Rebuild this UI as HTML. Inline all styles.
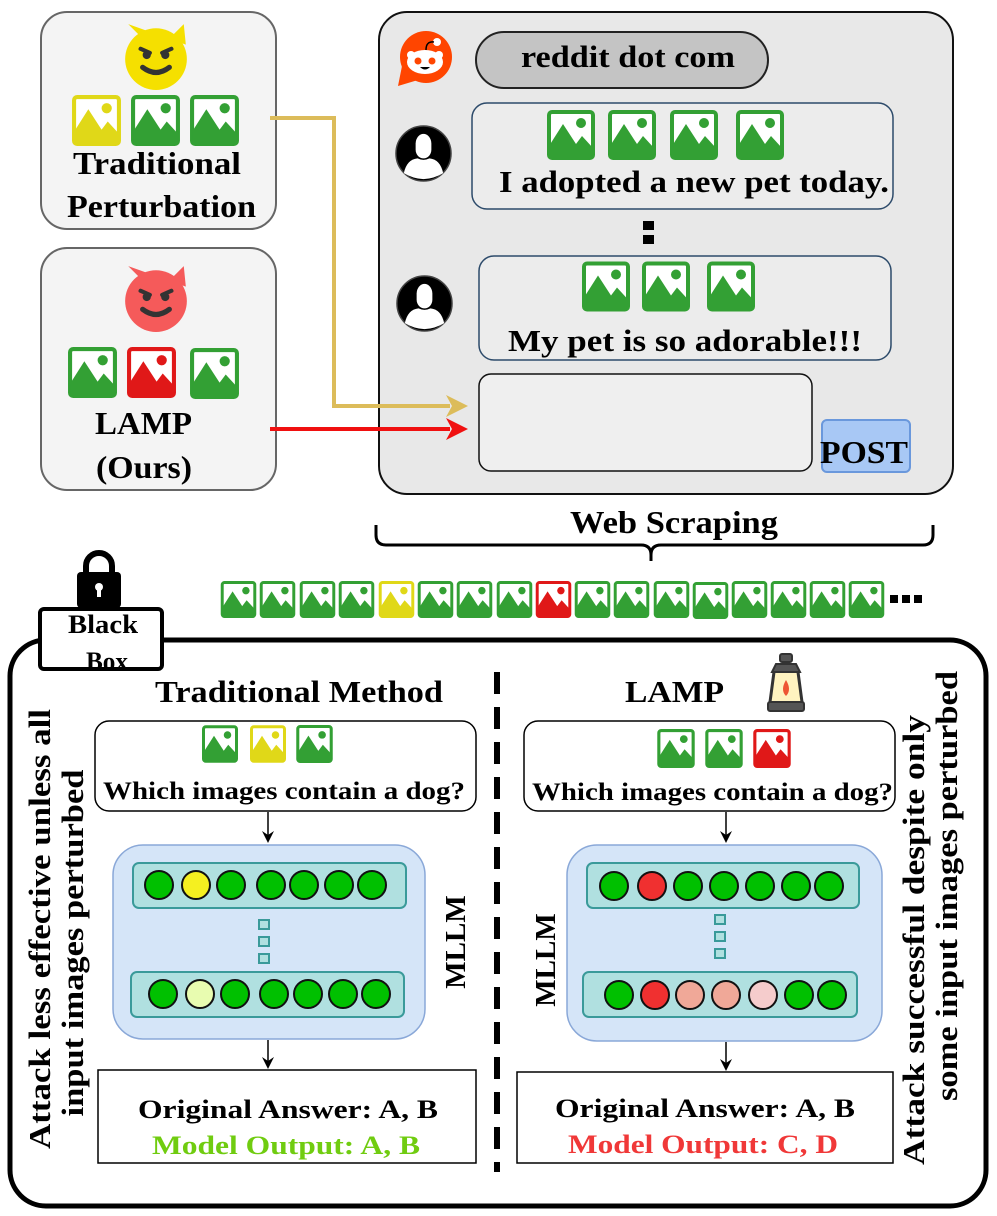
<!DOCTYPE html>
<html><head><meta charset="utf-8"><style>
html,body{margin:0;padding:0;background:#fff;}
svg{display:block;}
text{font-family:"Liberation Serif",serif;font-weight:bold;fill:#000;}
</style></head><body>
<svg width="997" height="1216" viewBox="0 0 997 1216" xmlns="http://www.w3.org/2000/svg">
<defs>
<symbol id="im" viewBox="0 0 48 50">
<rect x="2" y="2" width="44" height="46" rx="3" fill="#fff" stroke="currentColor" stroke-width="4"/>
<polygon points="2,48 2,36 16,14 29,34 35,26 46,38 46,48" fill="currentColor"/>
<circle cx="34" cy="13" r="5" fill="currentColor"/>
</symbol>
<symbol id="av" viewBox="0 0 60 60">
<circle cx="30" cy="30" r="28" fill="#000" stroke="#444" stroke-width="1.5"/>
<path d="M22 20 a8 10 0 0 1 16 0 v6 a8 9 0 0 1 -16 0 z" fill="#fff"/>
<path d="M10 50 q3 -14 14 -15 q6 3 12 0 q11 1 14 15 q-20 12 -40 0z" fill="#fff"/>
</symbol>
<symbol id="devil" viewBox="0 0 70 70">
<path d="M8 4 L20 16 L50 16 L62 4 L64 24 Z" fill="currentColor"/>
<circle cx="35" cy="38" r="30" fill="currentColor"/>
<path d="M20 28 l9 4 M50 28 l-9 4" stroke="#333" stroke-width="4" stroke-linecap="round"/>
<circle cx="26" cy="34" r="4" fill="#333"/><circle cx="44" cy="34" r="4" fill="#333"/>
<path d="M22 46 q13 10 26 0" fill="none" stroke="#333" stroke-width="5" stroke-linecap="round"/>
</symbol>
</defs>

<rect x="41" y="12" width="235" height="217" rx="26" fill="#f4f4f4" stroke="#666" stroke-width="2"/>
<use href="#devil" x="120" y="20" width="72" height="72" style="color:#f5e000"/>
<use href="#im" x="72" y="95" width="49" height="51" style="color:#e0d818"/>
<use href="#im" x="131" y="95" width="49" height="51" style="color:#33a034"/>
<use href="#im" x="190" y="95" width="49" height="51" style="color:#33a034"/>
<text x="73" y="174" font-size="32" textLength="168" lengthAdjust="spacingAndGlyphs">Traditional</text>
<text x="67" y="217" font-size="32" textLength="189" lengthAdjust="spacingAndGlyphs">Perturbation</text>

<rect x="41" y="248" width="235" height="242" rx="26" fill="#f4f4f4" stroke="#666" stroke-width="2"/>
<use href="#devil" x="120" y="262" width="72" height="72" style="color:#f55a5a"/>
<use href="#im" x="68" y="347" width="49" height="51" style="color:#33a034"/>
<use href="#im" x="127" y="347" width="49" height="51" style="color:#e01818"/>
<use href="#im" x="190" y="348" width="49" height="51" style="color:#33a034"/>
<text x="95" y="434" font-size="32" textLength="97" lengthAdjust="spacingAndGlyphs">LAMP</text>
<text x="96" y="478" font-size="32" textLength="96" lengthAdjust="spacingAndGlyphs">(Ours)</text>

<rect x="379" y="12" width="574" height="482" rx="28" fill="#e8e8e8" stroke="#111" stroke-width="2"/>
<circle cx="426" cy="57" r="26" fill="#ff4500"/>
<path d="M402 66 L398 86 L418 80 Z" fill="#ff4500"/>
<ellipse cx="425" cy="62" rx="18" ry="12" fill="#fff"/>
<circle cx="411" cy="55" r="4" fill="#fff"/><circle cx="439" cy="55" r="4" fill="#fff"/>
<circle cx="418" cy="61" r="3.5" fill="#ff4500"/><circle cx="432" cy="61" r="3.5" fill="#ff4500"/>
<path d="M420 67 q5 5 10 0z" fill="#000"/>
<circle cx="437" cy="42" r="4" fill="#fff"/>
<path d="M426 50 q0 -9 8 -8" fill="none" stroke="#000" stroke-width="1.5"/>

<rect x="476" y="32" width="292" height="56" rx="28" fill="#c4c4c4" stroke="#222" stroke-width="2"/>
<text x="521" y="67" font-size="31" textLength="214" lengthAdjust="spacingAndGlyphs">reddit dot com</text>

<use href="#av" x="394" y="124" width="59" height="59"/>
<rect x="472" y="103" width="421" height="106" rx="15" fill="#ececec" stroke="#2c4a6a" stroke-width="1.5"/>
<use href="#im" x="547" y="110" width="48" height="50" style="color:#33a034"/>
<use href="#im" x="608" y="110" width="48" height="50" style="color:#33a034"/>
<use href="#im" x="670" y="110" width="48" height="50" style="color:#33a034"/>
<use href="#im" x="736" y="110" width="48" height="50" style="color:#33a034"/>
<text x="499" y="192" font-size="31" textLength="390" lengthAdjust="spacingAndGlyphs">I adopted a new pet today.</text>

<rect x="643" y="221" width="11" height="9" fill="#000"/>
<rect x="643" y="235" width="11" height="9" fill="#000"/>

<use href="#av" x="395" y="274" width="59" height="59"/>
<rect x="479" y="256" width="412" height="104" rx="15" fill="#ececec" stroke="#2c4a6a" stroke-width="1.5"/>
<use href="#im" x="582" y="261" width="48" height="51" style="color:#33a034"/>
<use href="#im" x="642" y="261" width="48" height="51" style="color:#33a034"/>
<use href="#im" x="707" y="261" width="48" height="51" style="color:#33a034"/>
<text x="508" y="351" font-size="31" textLength="354" lengthAdjust="spacingAndGlyphs">My pet is so adorable!!!</text>

<rect x="479" y="374" width="333" height="97" rx="12" fill="#efefef" stroke="#111" stroke-width="1.5"/>
<rect x="822" y="420" width="88" height="52" rx="5" fill="#a8c8f5" stroke="#6a98dc" stroke-width="2"/>
<text x="820" y="463" font-size="32" textLength="88" lengthAdjust="spacingAndGlyphs">POST</text>

<polyline points="270,118 334,118 334,406 450,406" fill="none" stroke="#dcbc5a" stroke-width="4"/>
<polygon points="468,406 446,395 452,406 446,417" fill="#dcbc5a"/>
<line x1="270" y1="429" x2="450" y2="429" stroke="#f01010" stroke-width="4"/>
<polygon points="468,429 446,418 452,429 446,440" fill="#f01010"/>

<text x="570" y="533" font-size="32" textLength="208" lengthAdjust="spacingAndGlyphs">Web Scraping</text>
<path d="M376 525 v10 q0 10 10 10 h255 q10 0 10 10 v6 M651 555 q0 -10 10 -10 h262 q10 0 10 -10 v-10" fill="none" stroke="#000" stroke-width="3"/>

<g>
<use href="#im" x="220" y="581" width="37" height="37" style="color:#33a034"/>
<use href="#im" x="259" y="581" width="37" height="37" style="color:#33a034"/>
<use href="#im" x="299" y="581" width="37" height="37" style="color:#33a034"/>
<use href="#im" x="338" y="581" width="37" height="37" style="color:#33a034"/>
<use href="#im" x="378" y="581" width="37" height="37" style="color:#e0d818"/>
<use href="#im" x="417" y="581" width="37" height="37" style="color:#33a034"/>
<use href="#im" x="456" y="581" width="37" height="37" style="color:#33a034"/>
<use href="#im" x="496" y="581" width="37" height="37" style="color:#33a034"/>
<use href="#im" x="535" y="581" width="37" height="37" style="color:#e01818"/>
<use href="#im" x="574" y="581" width="37" height="37" style="color:#33a034"/>
<use href="#im" x="613" y="581" width="37" height="37" style="color:#33a034"/>
<use href="#im" x="653" y="581" width="37" height="37" style="color:#33a034"/>
<use href="#im" x="692" y="582" width="37" height="37" style="color:#33a034"/>
<use href="#im" x="731" y="581" width="37" height="37" style="color:#33a034"/>
<use href="#im" x="770" y="581" width="37" height="37" style="color:#33a034"/>
<use href="#im" x="809" y="581" width="37" height="37" style="color:#33a034"/>
<use href="#im" x="848" y="581" width="37" height="37" style="color:#33a034"/>
<rect x="890" y="595" width="8" height="8" fill="#000"/>
<rect x="902" y="595" width="8" height="8" fill="#000"/>
<rect x="914" y="595" width="8" height="8" fill="#000"/>
</g>

<rect x="10" y="640" width="976" height="566" rx="36" fill="#fff" stroke="#000" stroke-width="5"/>
<path d="M86 580 v-14 a13 13 0 0 1 26 0 v14" fill="none" stroke="#000" stroke-width="6"/>
<rect x="77" y="572" width="44" height="36" rx="4" fill="#000"/>
<circle cx="99" cy="587" r="4" fill="#fff"/><rect x="97" y="587" width="4" height="10" fill="#fff"/>
<rect x="40" y="609" width="122" height="60" rx="4" fill="#fff" stroke="#000" stroke-width="4"/>
<text x="68" y="633" font-size="26" textLength="70" lengthAdjust="spacingAndGlyphs">Black</text>
<svg x="40" y="609" width="122" height="58"><text x="46" y="61" font-size="26" textLength="42" lengthAdjust="spacingAndGlyphs">Box</text></svg>

<line x1="497" y1="672" x2="497" y2="1172" stroke="#000" stroke-width="6" stroke-dasharray="22,13"/>

<text x="155" y="702" font-size="31" textLength="288" lengthAdjust="spacingAndGlyphs">Traditional Method</text>
<rect x="95" y="721" width="381" height="90" rx="14" fill="#fff" stroke="#000" stroke-width="1.5"/>
<use href="#im" x="202" y="725" width="36" height="38" style="color:#33a034"/>
<use href="#im" x="250" y="725" width="36" height="38" style="color:#e0d818"/>
<use href="#im" x="296" y="725" width="37" height="38" style="color:#33a034"/>
<text x="103" y="799" font-size="25" textLength="362" lengthAdjust="spacingAndGlyphs">Which images contain a dog?</text>
<line x1="268" y1="812" x2="268" y2="836" stroke="#000" stroke-width="1.5"/>
<polygon points="268,843 262,831 268,835 274,831" fill="#000"/>

<rect x="113" y="845" width="312" height="194" rx="30" fill="#d5e5f8" stroke="#8aa8d8" stroke-width="1.5"/>
<rect x="133" y="863" width="273" height="45" rx="6" fill="#b0e0e0" stroke="#3a9a9a" stroke-width="2"/>
<g stroke="#111" stroke-width="2">
<circle cx="159" cy="885" r="14" fill="#00c000"/><circle cx="196" cy="885" r="14" fill="#f5f020"/>
<circle cx="231" cy="885" r="14" fill="#00c000"/><circle cx="271" cy="885" r="14" fill="#00c000"/>
<circle cx="304" cy="885" r="14" fill="#00c000"/><circle cx="339" cy="885" r="14" fill="#00c000"/>
<circle cx="372" cy="885" r="14" fill="#00c000"/>
</g>
<g fill="#b0e0e0" stroke="#3a9a9a" stroke-width="2">
<rect x="259" y="920" width="10" height="9"/><rect x="259" y="937" width="10" height="9"/><rect x="259" y="954" width="10" height="9"/>
</g>
<rect x="131" y="972" width="273" height="45" rx="6" fill="#b0e0e0" stroke="#3a9a9a" stroke-width="2"/>
<g stroke="#111" stroke-width="2">
<circle cx="163" cy="994" r="14" fill="#00c000"/><circle cx="200" cy="994" r="14" fill="#e8fcb0"/>
<circle cx="235" cy="994" r="14" fill="#00c000"/><circle cx="274" cy="994" r="14" fill="#00c000"/>
<circle cx="308" cy="994" r="14" fill="#00c000"/><circle cx="343" cy="994" r="14" fill="#00c000"/>
<circle cx="376" cy="994" r="14" fill="#00c000"/>
</g>
<text transform="translate(465,942) rotate(-90)" font-size="29" text-anchor="middle">MLLM</text>
<line x1="268" y1="1040" x2="268" y2="1062" stroke="#000" stroke-width="1.5"/>
<polygon points="268,1069 262,1057 268,1061 274,1057" fill="#000"/>
<rect x="98" y="1070" width="378" height="93" fill="#fff" stroke="#000" stroke-width="1.5"/>
<text x="138" y="1118" font-size="26" textLength="300" lengthAdjust="spacingAndGlyphs">Original Answer: A, B</text>
<text x="152" y="1154" font-size="26" textLength="268" lengthAdjust="spacingAndGlyphs" style="fill:#70cc10">Model Output: A, B</text>
<text transform="translate(50,929) rotate(-90)" font-size="31" text-anchor="middle" textLength="440" lengthAdjust="spacingAndGlyphs">Attack less effective unless all</text>
<text transform="translate(83,943) rotate(-90)" font-size="31" text-anchor="middle" textLength="347" lengthAdjust="spacingAndGlyphs">input images perturbed</text>

<text x="625" y="702" font-size="31" textLength="99" lengthAdjust="spacingAndGlyphs">LAMP</text>
<g stroke="#333" stroke-width="2">
<rect x="780" y="654" width="12" height="8" rx="2" fill="#555"/>
<path d="M776 664 h20 l4 8 h-28z" fill="#555"/>
<path d="M774 672 h24 l4 30 h-32z" fill="#fff3c0"/>
<path d="M774 672 l-4 30 M798 672 l4 30" stroke-width="3"/>
<rect x="768" y="702" width="36" height="9" rx="2" fill="#555"/>
</g>
<path d="M786 696 q-6 -6 0 -16 q6 10 0 16z" fill="#e53"/>
<rect x="524" y="721" width="371" height="90" rx="14" fill="#fff" stroke="#000" stroke-width="1.5"/>
<use href="#im" x="657" y="729" width="38" height="39" style="color:#33a034"/>
<use href="#im" x="705" y="729" width="38" height="39" style="color:#33a034"/>
<use href="#im" x="753" y="729" width="38" height="39" style="color:#e01818"/>
<text x="532" y="800" font-size="25" textLength="361" lengthAdjust="spacingAndGlyphs">Which images contain a dog?</text>
<line x1="726" y1="812" x2="726" y2="836" stroke="#000" stroke-width="1.5"/>
<polygon points="726,843 720,831 726,835 732,831" fill="#000"/>

<rect x="567" y="845" width="315" height="196" rx="30" fill="#d5e5f8" stroke="#8aa8d8" stroke-width="1.5"/>
<rect x="587" y="863" width="272" height="45" rx="6" fill="#b0e0e0" stroke="#3a9a9a" stroke-width="2"/>
<g stroke="#111" stroke-width="2">
<circle cx="614" cy="886" r="14" fill="#00c000"/><circle cx="652" cy="886" r="14" fill="#f03030"/>
<circle cx="688" cy="886" r="14" fill="#00c000"/><circle cx="724" cy="886" r="14" fill="#00c000"/>
<circle cx="760" cy="886" r="14" fill="#00c000"/><circle cx="796" cy="886" r="14" fill="#00c000"/>
<circle cx="829" cy="886" r="14" fill="#00c000"/>
</g>
<g fill="#b0e0e0" stroke="#3a9a9a" stroke-width="2">
<rect x="715" y="915" width="10" height="9"/><rect x="715" y="932" width="10" height="9"/><rect x="715" y="949" width="10" height="9"/>
</g>
<rect x="583" y="972" width="274" height="45" rx="6" fill="#b0e0e0" stroke="#3a9a9a" stroke-width="2"/>
<g stroke="#111" stroke-width="2">
<circle cx="619" cy="995" r="14" fill="#00c000"/><circle cx="655" cy="995" r="14" fill="#f03030"/>
<circle cx="690" cy="995" r="14" fill="#f0a898"/><circle cx="726" cy="995" r="14" fill="#f0a898"/>
<circle cx="763" cy="995" r="14" fill="#f5cccc"/><circle cx="799" cy="995" r="14" fill="#00c000"/>
<circle cx="832" cy="995" r="14" fill="#00c000"/>
</g>
<text transform="translate(555,960) rotate(-90)" font-size="29" text-anchor="middle">MLLM</text>
<line x1="726" y1="1042" x2="726" y2="1064" stroke="#000" stroke-width="1.5"/>
<polygon points="726,1071 720,1059 726,1063 732,1059" fill="#000"/>
<rect x="517" y="1072" width="376" height="91" fill="#fff" stroke="#000" stroke-width="1.5"/>
<text x="555" y="1117" font-size="26" textLength="300" lengthAdjust="spacingAndGlyphs">Original Answer: A, B</text>
<text x="568" y="1153" font-size="26" textLength="270" lengthAdjust="spacingAndGlyphs" style="fill:#f03838">Model Output: C, D</text>
<text transform="translate(924,940) rotate(-90)" font-size="31" text-anchor="middle" textLength="450" lengthAdjust="spacingAndGlyphs">Attack successful despite only</text>
<text transform="translate(957,886) rotate(-90)" font-size="31" text-anchor="middle" textLength="430" lengthAdjust="spacingAndGlyphs">some input images perturbed</text>
</svg>
</body></html>
